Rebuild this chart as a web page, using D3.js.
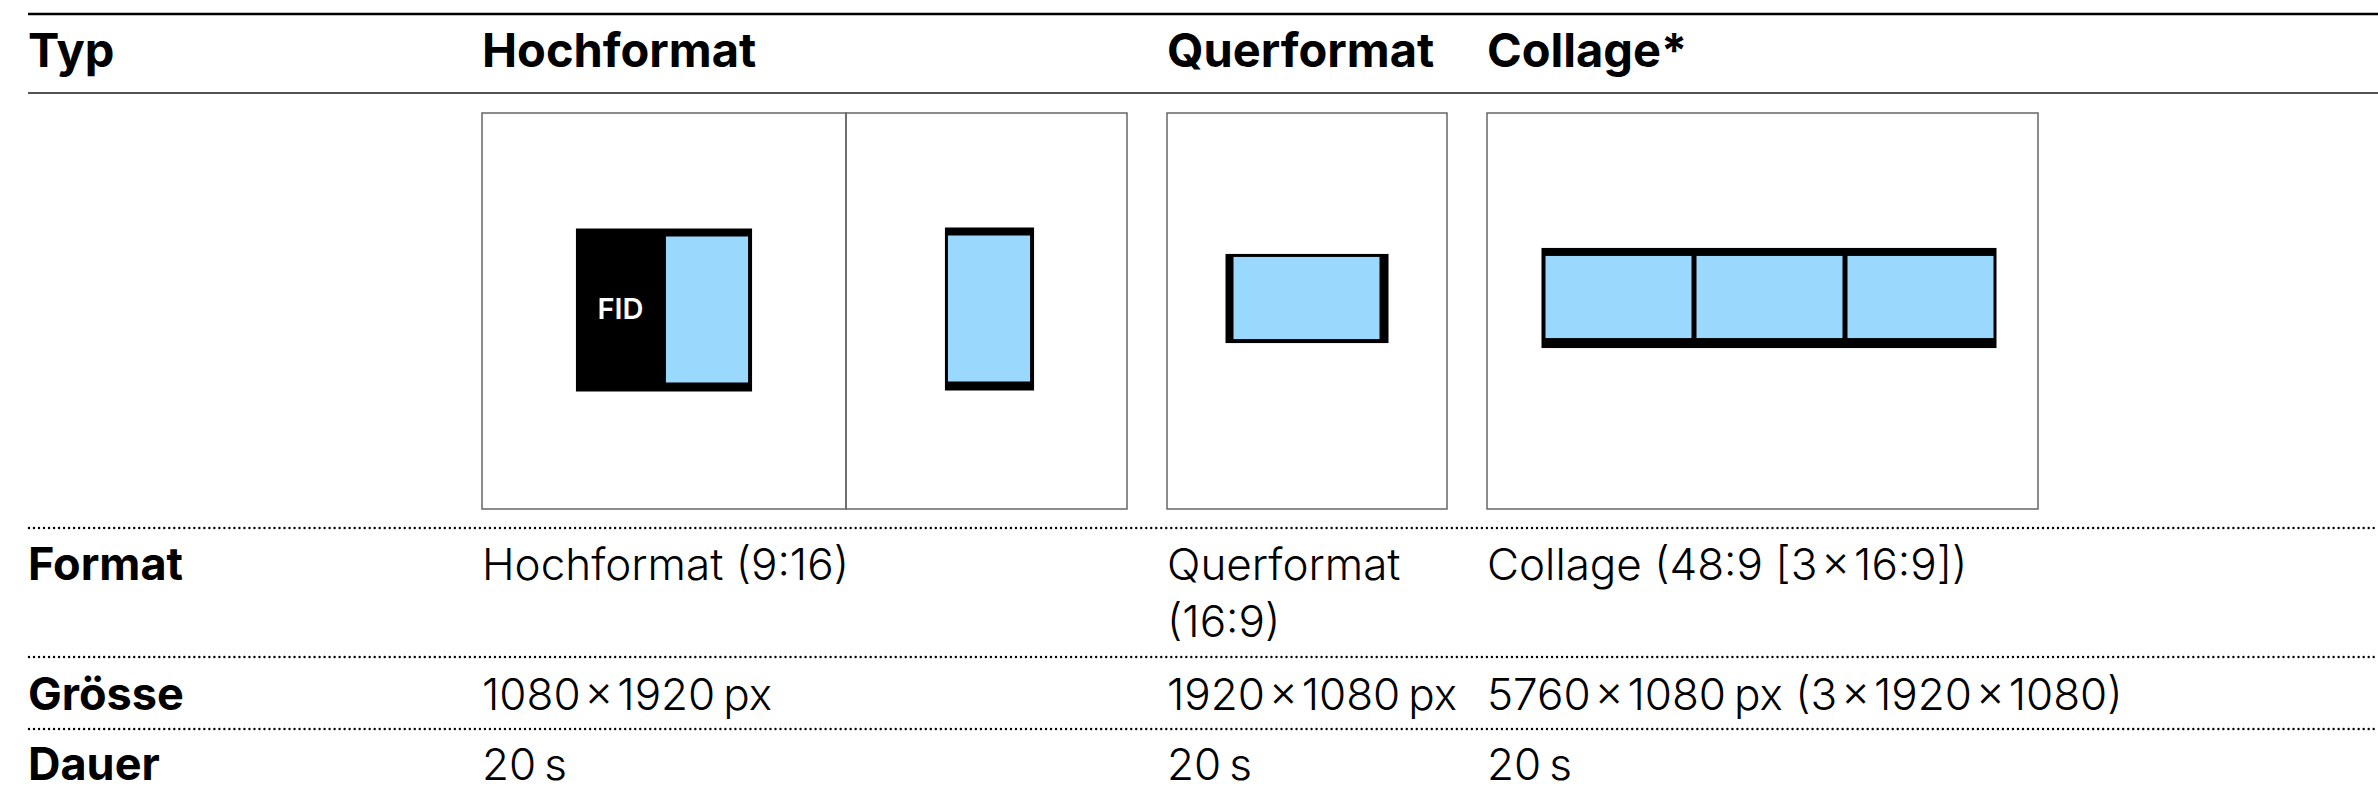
<!DOCTYPE html>
<html lang="de">
  <head>
    <meta charset="UTF-8" />
    <title>Formate</title>
    <script src="https://d3js.org/d3.v7.min.js"></script>
    <style>
      body {
        margin: 0;
        background: #fff;
      }
      .chart text {
        font-family: Inter, "Noto Sans", sans-serif;
        fill: #000;
      }
    </style>
  </head>
  <body>
    <div class="chart"></div>

    <script>
      // table content
      var columns = ["Typ", "Hochformat", "Querformat", "Collage*"];
      var rowLabels = ["Format", "Grösse", "Dauer"];
      var formatTexts = ["Hochformat (9:16)", "Querformat (16:9)", "Collage (48:9 [3\u200A×\u200A16:9])"];
      var sizeTexts = [
        "1080\u200A×\u200A1920\u2009px",
        "1920\u200A×\u200A1080\u2009px",
        "5760\u200A×\u200A1080\u2009px (3\u200A×\u200A1920\u200A×\u200A1080)"
      ];
      var durationTexts = ["20\u2009s", "20\u2009s", "20\u2009s"];

      // screens shown in the preview boxes (pixel sizes, panel count)
      var screenW = [1080, 1080, 1920, 1920];
      var screenH = [1920, 1920, 1080, 1080];
      var panels = [1, 1, 1, 3];
      var withFid = [true, false, false, false];

      var width = 2378;
      var height = 793;

      var svg = d3
        .select(".chart")
        .append("svg")
        .attr("width", width)
        .attr("height", height);

      // column starts for text, and preview boxes
      var colX = [28, 482, 1167, 1487];
      var boxes = [
        { x0: 482, x1: 846 },
        { x0: 846, x1: 1127 },
        { x0: 1167, x1: 1447 },
        { x0: 1487, x1: 2038 }
      ];
      var boxTop = 113,
        boxBottom = 509;
      // centre of the screens in each box
      var screenCentre = [
        [707, 309.5],
        [989, 308.5],
        [1306.5, 298],
        [1769.5, 297]
      ];

      // pixel -> drawing size
      var px = d3.scaleLinear().domain([0, 1920]).range([0, 146]);

      // rules
      svg.append("line")
        .attr("x1", 28).attr("x2", width)
        .attr("y1", 14).attr("y2", 14)
        .attr("stroke", "#000").attr("stroke-width", 2.5);
      svg.append("line")
        .attr("x1", 28).attr("x2", width)
        .attr("y1", 93).attr("y2", 93)
        .attr("stroke", "#1a1a1a").attr("stroke-width", 1.5);

      svg.selectAll(".dots")
        .data([528, 657, 729])
        .enter()
        .append("line")
        .attr("class", "dots")
        .attr("x1", 29).attr("x2", width)
        .attr("y1", function (d) { return d; })
        .attr("y2", function (d) { return d; })
        .attr("stroke", "#000")
        .attr("stroke-width", 2.4)
        .attr("stroke-linecap", "round")
        .attr("stroke-dasharray", "0.01 5");

      // header
      svg.selectAll(".head")
        .data(columns)
        .enter()
        .append("text")
        .attr("class", "head")
        .attr("x", function (d, i) { return colX[i]; })
        .attr("y", 67)
        .attr("font-size", 47)
        .attr("font-weight", 700)
        .text(function (d) { return d; });

      // preview boxes
      var g = svg.selectAll(".preview")
        .data(boxes)
        .enter()
        .append("g")
        .attr("class", "preview");

      g.append("rect")
        .attr("x", function (d) { return d.x0; })
        .attr("y", boxTop)
        .attr("width", function (d) { return d.x1 - d.x0; })
        .attr("height", boxBottom - boxTop)
        .attr("fill", "none")
        .attr("stroke", "#666")
        .attr("stroke-width", 1.5);

      g.each(function (d, i) {
        var sel = d3.select(this);
        var w = px(screenW[i]),
          h = px(screenH[i]);
        var n = panels[i];
        var gap = 5;
        var total = n * w + (n - 1) * gap;
        var cx = screenCentre[i][0],
          cy = screenCentre[i][1];
        var sx = cx - total / 2,
          sy = cy - h / 2;
        var portrait = h > w;
        // bezel: thin on the long sides, thick on the short ones
        var b = portrait
          ? { l: 3, r: 4, t: 8, b: 9 }
          : n > 1
          ? { l: 4, r: 3, t: 8, b: 10 }
          : { l: 8, r: 9, t: 3, b: 4 };
        var extra = withFid[i] ? 87 : 0;

        sel.append("rect")
          .attr("x", sx - b.l - extra)
          .attr("y", sy - b.t)
          .attr("width", total + b.l + b.r + extra)
          .attr("height", h + b.t + b.b)
          .attr("fill", "#000");

        sel.selectAll(".screen")
          .data(d3.range(n))
          .enter()
          .append("rect")
          .attr("class", "screen")
          .attr("x", function (k) { return sx + k * (w + gap); })
          .attr("y", sy)
          .attr("width", w)
          .attr("height", h)
          .attr("fill", "#9ad8fe");

        if (withFid[i]) {
          sel.append("text")
            .attr("x", sx - b.l - extra / 2 + 1)
            .attr("y", cy + 9)
            .attr("text-anchor", "middle")
            .attr("font-family", "'Open Sans', sans-serif")
            .attr("font-weight", 600)
            .attr("font-size", 29)
            .style("fill", "#fff")
            .text("FID");
        }
      });

      // body rows
      var rows = [
        { label: rowLabels[0], cells: formatTexts, y: 580 },
        { label: rowLabels[1], cells: sizeTexts, y: 710 },
        { label: rowLabels[2], cells: durationTexts, y: 780 }
      ];
      var colEnd = [482, 1167, 1487, width];
      var lineHeight = 57;

      rows.forEach(function (row) {
        svg.append("text")
          .attr("x", colX[0])
          .attr("y", row.y)
          .attr("font-size", 45)
          .attr("font-weight", 700)
          .text(row.label);

        row.cells.forEach(function (t, j) {
          var col = j + 1;
          var txt = svg.append("text")
            .attr("x", colX[col])
            .attr("y", row.y)
            .attr("font-size", 44)
            .attr("font-weight", 300);
          wrap(txt, t, colEnd[col] - colX[col] - 14, colX[col]);
        });
      });

      function wrap(txt, str, maxW, x) {
        var words = str.split(" ");
        var line = [];
        var tspan = txt.append("tspan").attr("x", x);
        words.forEach(function (w) {
          line.push(w);
          tspan.text(line.join(" "));
          if (tspan.node().getComputedTextLength() > maxW && line.length > 1) {
            line.pop();
            tspan.text(line.join(" "));
            line = [w];
            tspan = txt.append("tspan")
              .attr("x", x)
              .attr("dy", lineHeight)
              .text(w);
          }
        });
      }
    </script>
  </body>
</html>
